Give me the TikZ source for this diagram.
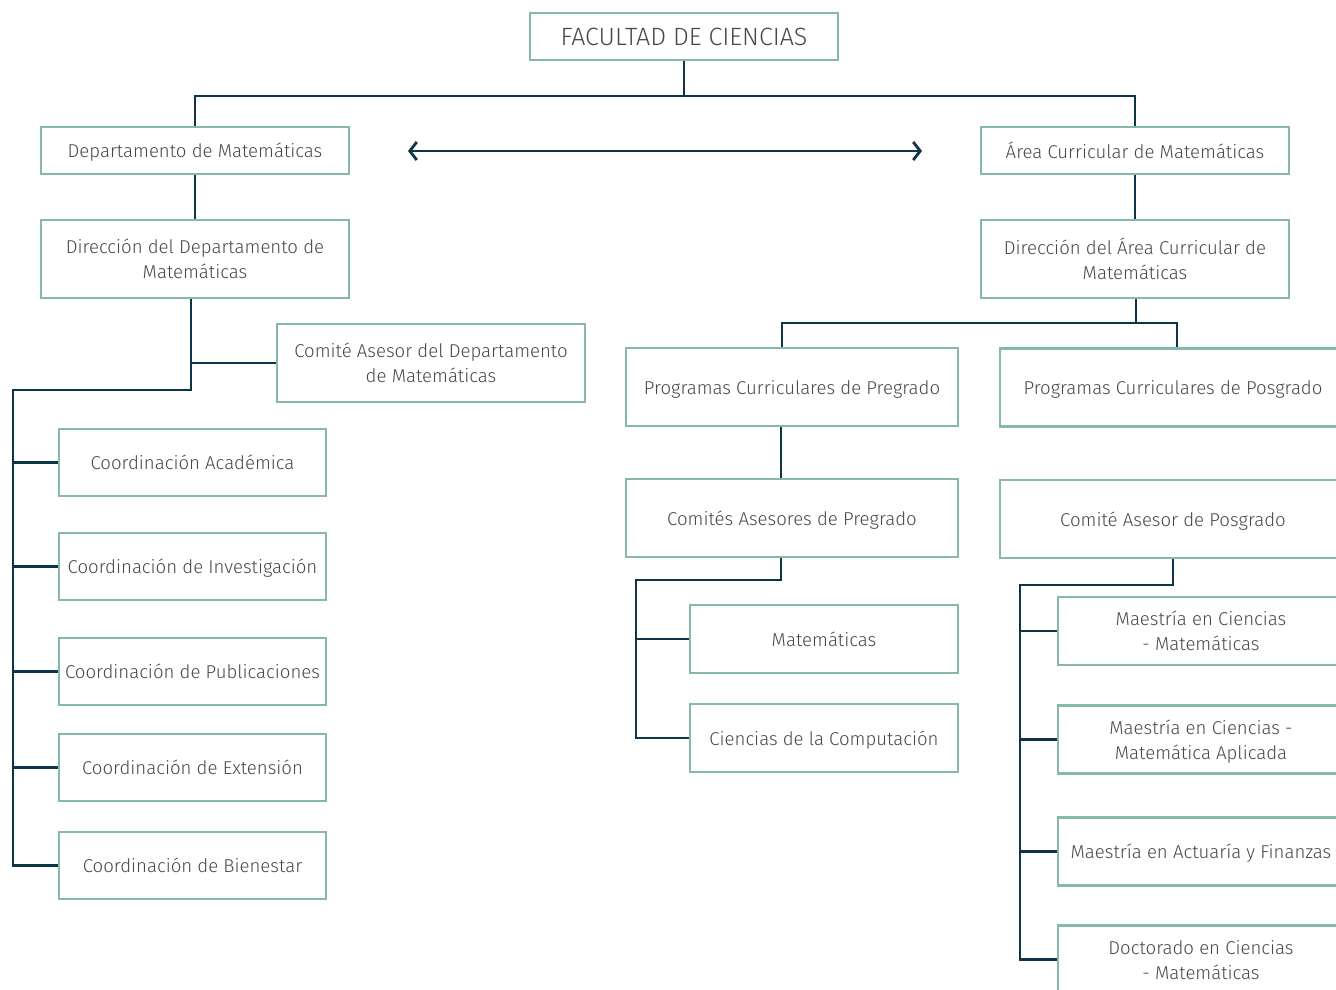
\documentclass[tikz,border=0pt]{standalone}
\usepackage{fontspec}
\setmainfont{Fira Sans Light}
\usetikzlibrary{arrows.meta}
\definecolor{boxc}{HTML}{86B9AA}
\definecolor{linec}{HTML}{0E3449}
\definecolor{txtc}{HTML}{484848}
\tikzset{
  box/.style={draw=boxc, line width=2.6pt, fill=white, text=txtc, align=center,
    inner sep=0pt, text depth=0pt, font=\fontsize{18.6}{25}\selectfont},
  conn/.style={draw=linec, line width=2.8pt},
}
\begin{document}
\begin{tikzpicture}[x=1pt,y=-1pt]
\useasboundingbox (0,0) rectangle (1336,990);
% nodes
\node[box, minimum width=308, minimum height=47, font=\fontsize{25}{25}\selectfont] (fac) at (684,36.5) {FACULTAD DE CIENCIAS};
\node[box, minimum width=308, minimum height=47] (dep) at (195,150.5) {Departamento de Matemáticas};
\node[box, minimum width=308, minimum height=47] (area) at (1135,150.5) {Área Curricular de Matemáticas};
\node[box, minimum width=308, minimum height=78] (dird) at (195,259) {Dirección del Departamento de\\Matemáticas};
\node[box, minimum width=308, minimum height=78] (dira) at (1135,259) {Dirección del Área Curricular de\\Matemáticas};
\node[box, minimum width=308, minimum height=78] (cad) at (431,363) {Comité Asesor del Departamento\\de Matemáticas};
\node[box, minimum width=267, minimum height=67] (c1) at (192.5,462.5) {Coordinación Académica};
\node[box, minimum width=267, minimum height=67] (c2) at (192.5,566.5) {Coordinación de Investigación};
\node[box, minimum width=267, minimum height=67] (c3) at (192.5,671.5) {Coordinación de Publicaciones};
\node[box, minimum width=267, minimum height=67] (c4) at (192.5,767.5) {Coordinación de Extensión};
\node[box, minimum width=267, minimum height=67] (c5) at (192.5,865.5) {Coordinación de Bienestar};
\node[box, minimum width=332, minimum height=78] (ppre) at (792,387) {Programas Curriculares de Pregrado};
\node[box, minimum width=346, minimum height=78] (ppos) at (1173,387.5) {Programas Curriculares de Posgrado};
\node[box, minimum width=332, minimum height=78] (capre) at (792,518) {Comités Asesores de Pregrado};
\node[box, minimum width=346, minimum height=78] (capos) at (1173,519) {Comité Asesor de Posgrado};
\node[box, minimum width=268, minimum height=68] (mat) at (824,639) {Matemáticas};
\node[box, minimum width=268, minimum height=68] (cc) at (824,738) {Ciencias de la Computación};
\node[box, minimum width=286, minimum height=68] (m1) at (1201,631) {Maestría en Ciencias\\- Matemáticas};
\node[box, minimum width=286, minimum height=68] (m2) at (1201,739.5) {Maestría en Ciencias -\\Matemática Aplicada};
\node[box, minimum width=286, minimum height=68] (m3) at (1201,851.5) {Maestría en Actuaría y Finanzas};
\node[box, minimum width=286, minimum height=68] (m4) at (1201,959.5) {Doctorado en Ciencias\\- Matemáticas};
% coordinates
\coordinate (top) at (684,96);
\coordinate (jl) at (191,390);
\coordinate (tl) at (13,390);
\coordinate (jr) at (1136,323);
\coordinate (tp) at (636,580);
\coordinate (tq) at (1020,585);
\coordinate (al) at (408,151);
\coordinate (ar) at (922,151);
% connectors
\draw[conn] (fac.south) -- (top);
\draw[conn] (dep.north) |- (top) -| (area.north);
\draw[conn] (dep.south) -- (dep.south |- dird.north);
\draw[conn] (area.south) -- (area.south |- dira.north);
\draw[conn] (dird.south -| jl) -- (jl) -- (tl) |- (c5.west);
\draw[conn] (cad.west) -- (cad.west -| jl);
\draw[conn] (c1.west) -- (c1.west -| tl);
\draw[conn] (c2.west) -- (c2.west -| tl);
\draw[conn] (c3.west) -- (c3.west -| tl);
\draw[conn] (c4.west) -- (c4.west -| tl);
\draw[conn] (dira.south -| jr) -- (jr);
\draw[conn] (ppre.north -| 782,0) |- (jr) -| (ppos.north -| 1177,0);
\draw[conn] (ppre.south -| 781,0) -- (capre.north -| 781,0);
\draw[conn] (capre.south -| 781,0) |- (tp) |- (cc.west);
\draw[conn] (mat.west) -- (mat.west -| tp);
\draw[conn] (capos.south) |- (tq) |- (m4.west);
\draw[conn] (m1.west) -- (m1.west -| tq);
\draw[conn] (m2.west) -- (m2.west -| tq);
\draw[conn] (m3.west) -- (m3.west -| tq);
\draw[conn, {Straight Barb[length=7pt,width=18pt,line width=2.8pt]}-{Straight Barb[length=7pt,width=18pt,line width=2.8pt]}] (al) -- (ar);
\end{tikzpicture}
\end{document}
